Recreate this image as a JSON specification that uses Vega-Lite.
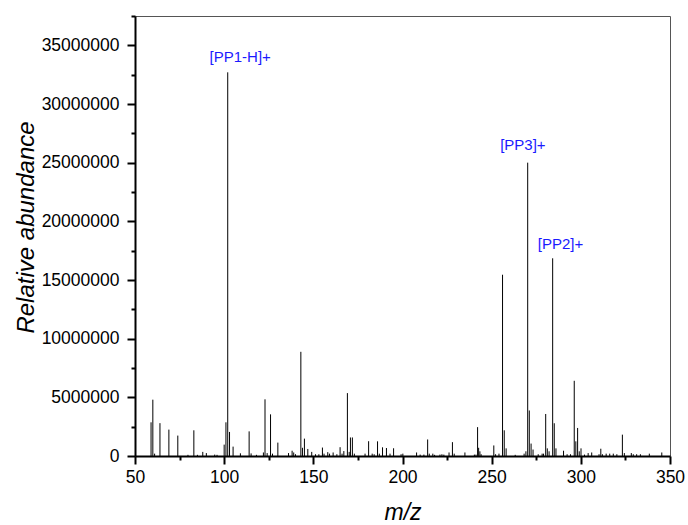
{
  "$schema": "https://vega.github.io/schema/vega-lite/v6.json",
  "width": 535,
  "height": 440,
  "autosize": "none",
  "padding": {"left": 135, "top": 16, "right": 18, "bottom": 69},
  "background": "white",
  "config": {
    "font": "Liberation Sans",
    "view": {"stroke": "#555", "strokeWidth": 1},
    "axis": {
      "grid": false,
      "labelFont": "Liberation Sans",
      "labelFontSize": 17.5,
      "labelColor": "black",
      "labelFlush": false,
      "titleFont": "Liberation Sans",
      "titleFontSize": 23,
      "titleFontStyle": "italic",
      "titleFontWeight": "normal",
      "titleColor": "black",
      "domainColor": "black",
      "domainWidth": 2,
      "tickColor": "black",
      "tickWidth": 2
    }
  },
  "datasets": {
    "peaks": [
      {"mz": 59.0, "ab": 2870000}, {"mz": 60.0, "ab": 4800000}, {"mz": 61.0, "ab": 200000},
      {"mz": 64.0, "ab": 2800000}, {"mz": 69.0, "ab": 2250000}, {"mz": 74.0, "ab": 1740000},
      {"mz": 79.7, "ab": 100000}, {"mz": 83.0, "ab": 2190000}, {"mz": 85.0, "ab": 100000},
      {"mz": 88.0, "ab": 350000}, {"mz": 90.0, "ab": 250000}, {"mz": 94.7, "ab": 120000},
      {"mz": 96.0, "ab": 100000}, {"mz": 100.0, "ab": 970000}, {"mz": 101.0, "ab": 2870000},
      {"mz": 102.0, "ab": 32700000}, {"mz": 103.0, "ab": 2050000}, {"mz": 105.0, "ab": 800000},
      {"mz": 109.1, "ab": 230000}, {"mz": 114.0, "ab": 2100000}, {"mz": 115.1, "ab": 220000},
      {"mz": 118.1, "ab": 100000}, {"mz": 122.0, "ab": 300000}, {"mz": 122.9, "ab": 4830000},
      {"mz": 124.1, "ab": 250000}, {"mz": 126.0, "ab": 3550000}, {"mz": 127.1, "ab": 200000},
      {"mz": 130.1, "ab": 1140000}, {"mz": 136.1, "ab": 250000}, {"mz": 138.1, "ab": 450000},
      {"mz": 139.0, "ab": 300000}, {"mz": 140.0, "ab": 150000}, {"mz": 143.0, "ab": 8880000},
      {"mz": 143.9, "ab": 700000}, {"mz": 145.0, "ab": 1480000}, {"mz": 146.9, "ab": 600000},
      {"mz": 149.1, "ab": 350000}, {"mz": 151.2, "ab": 150000}, {"mz": 153.1, "ab": 150000},
      {"mz": 155.1, "ab": 720000}, {"mz": 156.0, "ab": 200000}, {"mz": 158.1, "ab": 330000},
      {"mz": 159.1, "ab": 200000}, {"mz": 161.1, "ab": 300000}, {"mz": 163.2, "ab": 150000},
      {"mz": 165.0, "ab": 750000}, {"mz": 166.1, "ab": 200000}, {"mz": 167.1, "ab": 420000},
      {"mz": 169.1, "ab": 5360000}, {"mz": 170.1, "ab": 350000}, {"mz": 170.8, "ab": 1580000},
      {"mz": 171.9, "ab": 1580000}, {"mz": 173.0, "ab": 200000}, {"mz": 179.0, "ab": 200000},
      {"mz": 181.0, "ab": 1260000}, {"mz": 183.0, "ab": 200000}, {"mz": 184.1, "ab": 150000},
      {"mz": 186.0, "ab": 1250000}, {"mz": 187.0, "ab": 200000}, {"mz": 188.8, "ab": 740000},
      {"mz": 191.0, "ab": 680000}, {"mz": 193.0, "ab": 200000}, {"mz": 195.0, "ab": 660000},
      {"mz": 199.2, "ab": 150000}, {"mz": 200.2, "ab": 200000}, {"mz": 207.9, "ab": 300000},
      {"mz": 209.9, "ab": 120000}, {"mz": 212.0, "ab": 120000}, {"mz": 214.1, "ab": 1410000},
      {"mz": 215.0, "ab": 200000}, {"mz": 217.0, "ab": 200000}, {"mz": 218.0, "ab": 100000},
      {"mz": 221.0, "ab": 120000}, {"mz": 222.1, "ab": 150000}, {"mz": 223.2, "ab": 120000},
      {"mz": 226.1, "ab": 300000}, {"mz": 228.0, "ab": 1180000}, {"mz": 229.0, "ab": 200000},
      {"mz": 235.0, "ab": 300000}, {"mz": 240.3, "ab": 120000}, {"mz": 241.2, "ab": 120000},
      {"mz": 242.1, "ab": 2460000}, {"mz": 242.7, "ab": 700000}, {"mz": 243.4, "ab": 400000},
      {"mz": 244.1, "ab": 150000}, {"mz": 251.2, "ab": 900000}, {"mz": 252.2, "ab": 150000},
      {"mz": 254.1, "ab": 200000}, {"mz": 256.1, "ab": 15450000}, {"mz": 257.05, "ab": 2190000},
      {"mz": 258.1, "ab": 650000}, {"mz": 263.2, "ab": 100000}, {"mz": 268.2, "ab": 200000},
      {"mz": 269.2, "ab": 400000}, {"mz": 270.2, "ab": 25000000}, {"mz": 271.1, "ab": 3880000},
      {"mz": 272.1, "ab": 1060000}, {"mz": 273.2, "ab": 550000}, {"mz": 276.1, "ab": 150000},
      {"mz": 278.3, "ab": 200000}, {"mz": 279.1, "ab": 200000}, {"mz": 280.3, "ab": 3580000},
      {"mz": 281.2, "ab": 650000}, {"mz": 282.2, "ab": 400000}, {"mz": 284.2, "ab": 16850000},
      {"mz": 285.1, "ab": 2790000}, {"mz": 286.05, "ab": 650000}, {"mz": 290.3, "ab": 450000},
      {"mz": 292.3, "ab": 150000}, {"mz": 294.2, "ab": 150000}, {"mz": 296.3, "ab": 6410000},
      {"mz": 297.2, "ab": 1250000}, {"mz": 298.2, "ab": 2390000}, {"mz": 299.1, "ab": 400000},
      {"mz": 300.1, "ab": 650000}, {"mz": 302.05, "ab": 120000}, {"mz": 304.1, "ab": 250000},
      {"mz": 306.1, "ab": 300000}, {"mz": 310.2, "ab": 150000}, {"mz": 311.2, "ab": 620000},
      {"mz": 312.1, "ab": 150000}, {"mz": 314.2, "ab": 200000}, {"mz": 316.2, "ab": 200000},
      {"mz": 318.2, "ab": 200000}, {"mz": 320.2, "ab": 150000}, {"mz": 323.3, "ab": 1820000},
      {"mz": 324.4, "ab": 250000}, {"mz": 328.3, "ab": 250000}, {"mz": 329.4, "ab": 150000},
      {"mz": 331.3, "ab": 150000}, {"mz": 333.4, "ab": 150000}, {"mz": 338.4, "ab": 200000},
      {"mz": 345.4, "ab": 300000}
    ],
    "labels": [
      {"label": "[PP1-H]+", "mz": 109.0, "ab": 33980000},
      {"label": "[PP3]+", "mz": 267.5, "ab": 26480000},
      {"label": "[PP2]+", "mz": 288.6, "ab": 18040000}
    ]
  },
  "layer": [
    {
      "data": {"name": "peaks"},
      "mark": {"type": "rule", "color": "black", "strokeWidth": 1},
      "encoding": {
        "x": {
          "field": "mz", "type": "quantitative",
          "scale": {"domain": [50, 350], "nice": false, "zero": false},
          "axis": {
            "orient": "bottom",
            "values": [50, 100, 150, 200, 250, 300, 350],
            "format": "d",
            "title": "m/z",
            "tickSize": 8,
            "labelPadding": 4,
            "titlePadding": 16
          }
        },
        "y": {
          "field": "ab", "type": "quantitative",
          "scale": {"domain": [0, 37500000], "nice": false},
          "axis": {
            "orient": "left",
            "values": [0, 5000000, 10000000, 15000000, 20000000, 25000000, 30000000, 35000000],
            "format": "d",
            "title": "Relative abundance",
            "titleFontSize": 24,
            "titleX": -102,
            "titleY": 211,
            "titleAngle": 270,
            "titleAlign": "center",
            "titleBaseline": "alphabetic",
            "tickSize": 8,
            "labelPadding": 8
          }
        },
        "y2": {"datum": 0}
      }
    },
    {
      "data": {"name": "labels"},
      "mark": {"type": "text", "color": "#1a1aff", "fontSize": 15, "font": "Liberation Sans", "align": "center", "baseline": "middle"},
      "encoding": {
        "x": {
          "field": "mz", "type": "quantitative",
          "axis": {
            "orient": "bottom",
            "values": [75, 125, 175, 225, 275, 325],
            "labels": false, "domain": false, "title": null, "tickSize": 4
          }
        },
        "y": {
          "field": "ab", "type": "quantitative",
          "axis": {
            "orient": "left",
            "values": [2500000, 7500000, 12500000, 17500000, 22500000, 27500000, 32500000, 37500000],
            "labels": false, "domain": false, "title": null, "tickSize": 4
          }
        },
        "text": {"field": "label", "type": "nominal"}
      }
    }
  ],
  "resolve": {"axis": {"x": "independent", "y": "independent"}}
}
